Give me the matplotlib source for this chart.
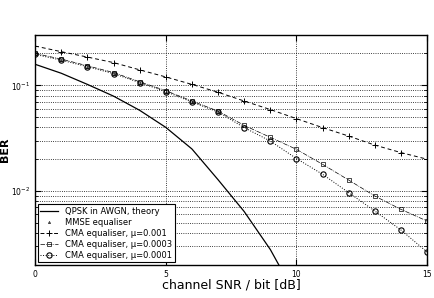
import matplotlib
matplotlib.use("Agg")
import matplotlib.pyplot as plt
import numpy as np

# valores
snr_theory = [0, 1, 2, 3, 4, 5, 6, 7, 8, 9, 10]
ber_theory = [0.158, 0.13, 0.102, 0.079, 0.058, 0.040, 0.025, 0.0128, 0.0064, 0.0028, 0.0010]

snr = list(range(16))
ber_cma_1e3 = [0.235, 0.208, 0.185, 0.164, 0.140, 0.120, 0.102, 0.086, 0.071, 0.059,
               0.0484, 0.0398, 0.0331, 0.0272, 0.0231, 0.020]
ber_cma_3e4 = [0.200, 0.177, 0.153, 0.132, 0.108, 0.089, 0.071, 0.057, 0.0418, 0.0322,
               0.0248, 0.0179, 0.0127, 0.00897, 0.00671, 0.0052]
ber_cma_1e4 = [0.196, 0.173, 0.150, 0.129, 0.106, 0.0871, 0.0695, 0.0559, 0.0398, 0.0297,
               0.0203, 0.0144, 0.00966, 0.00647, 0.00428, 0.00265]
snr_mmse = [0, 1, 2, 3, 4, 5, 6, 7]
ber_mmse = [0.196, 0.173, 0.150, 0.129, 0.106, 0.0871, 0.0695, 0.0559]

fig = plt.figure(figsize=(4.34, 2.98), dpi=100)
ax = fig.add_axes([0.081, 0.111, 0.903, 0.772])

ax.semilogy(snr_theory, ber_theory, "k-", lw=0.9, label="QPSK in AWGN, theory")
ax.semilogy(snr_mmse, ber_mmse, "k^", ms=1.5, mfc="none", mew=0.5, label="MMSE equaliser")
ax.semilogy(snr, ber_cma_1e3, "k--+", lw=0.7, ms=4, mew=0.7, dashes=(4, 3),
            label="CMA equaliser, \u03bc=0.001")
ax.semilogy(snr, ber_cma_3e4, "k-.s", lw=0.5, ms=3, mfc="none", mew=0.5,
            label="CMA equaliser, \u03bc=0.0003")
ax.semilogy(snr, ber_cma_1e4, "k:o", lw=0.7, ms=3.8, mfc="none", mew=0.8,
            label="CMA equaliser, \u03bc=0.0001")

ax.set_xlim(0, 15)
ax.set_ylim(2e-3, 0.3)
ax.set_xticks([0, 5, 10, 15])
ax.set_yticks([1e-2, 1e-1])
ax.set_yticklabels(["$10^{-2}$", "$10^{-1}$"])
ax.grid(True, which="major", ls=":", color="k", lw=0.6)
ax.grid(True, which="minor", axis="y", ls=":", color="k", lw=0.6)
ax.tick_params(which="both", direction="in", top=True, right=True, labelsize=5.5)
ax.tick_params(which="major", length=4)
ax.tick_params(which="minor", length=2)
for s in ax.spines.values():
    s.set_linewidth(1.0)

ax.set_xlabel("channel SNR / bit [dB]", fontsize=9, labelpad=0)
ax.set_ylabel("BER", fontsize=8, fontweight="bold")
ax.yaxis.set_label_coords(-0.063, 0.5)
leg = ax.legend(loc="lower left", fontsize=6, frameon=True, fancybox=False,
                edgecolor="k", framealpha=1, borderpad=0.3, labelspacing=0.25,
                handlelength=2.2, borderaxespad=0.3)
leg.get_frame().set_linewidth(0.8)

plt.savefig("out.png", dpi=100)
plt.close()
